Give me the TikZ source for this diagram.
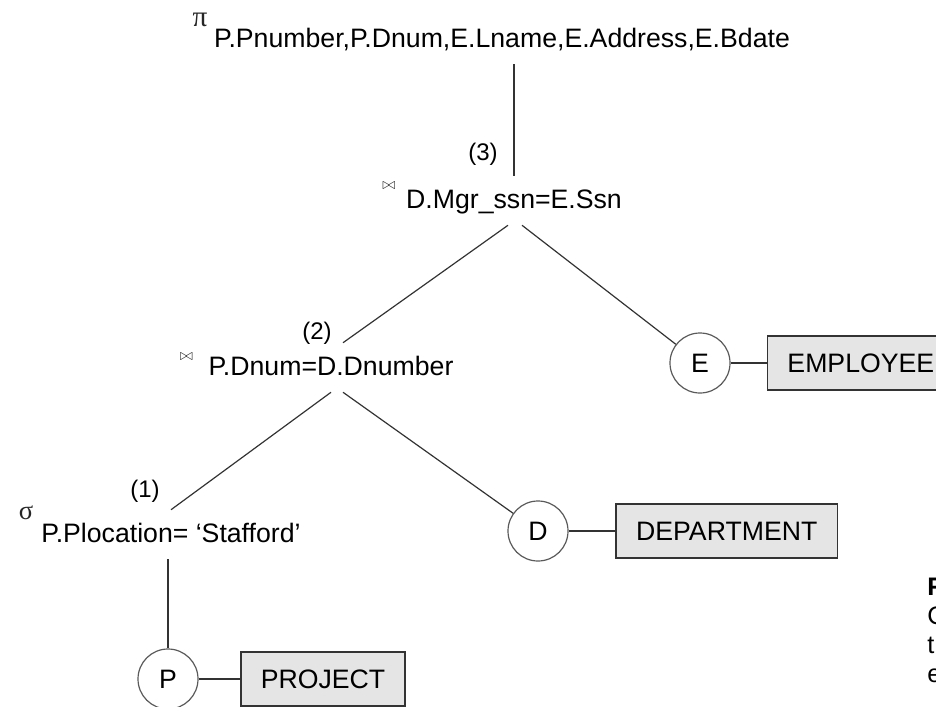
\documentclass[tikz,border=0pt]{standalone}
\usepackage{fontspec}
\setmainfont{Liberation Sans}
\newfontfamily\grkfont{Liberation Serif}
\usepackage{xcolor}
\usepackage{tikz}
\usetikzlibrary{positioning, calc}
\definecolor{qline}{HTML}{333333}
\definecolor{qring}{HTML}{5A5A5A}
\definecolor{qfill}{HTML}{E5E5E5}
\tikzset{
  qop/.style={font=\fontsize{20}{24}\selectfont, inner sep=0pt, text height=24pt, text depth=12.75pt, anchor=base},
  qsym/.style={inner sep=0pt, text=black!85},
  qlbl/.style={font=\fontsize{18}{22}\selectfont, inner sep=0pt},
  qrel/.style={circle, draw=qring, line width=0.9pt, minimum size=45pt, inner sep=0pt, font=\fontsize{20}{24}\selectfont},
  qtab/.style={draw=qline, line width=1.3pt, fill=qfill, minimum height=40.5pt, inner xsep=15pt, font=\fontsize{20}{24}\selectfont},
  qedge/.style={draw=qline, line width=0.9pt},
  qcap/.style={font=\fontsize{19}{23}\selectfont, inner sep=0pt, anchor=base west},
}
\begin{document}
\begin{tikzpicture}[x=0.75pt, y=-0.75pt]
    \useasboundingbox (0,0) rectangle (936,707);
    \clip (0,0) rectangle (936,707);
    \node[qop] (proj) at (502,47) {P.Pnumber,P.Dnum,E.Lname,E.Address,E.Bdate};
    \node[qop] (jn3) at (514,208) {D.Mgr\_ssn=E.Ssn};
    \node[qop] (jn2) at (331,375) {P.Dnum=D.Dnumber};
    \node[qop] (sel) at (171,542) {P.Plocation= ‘Stafford’};
    \node[qsym, font=\grkfont\fontsize{22}{24}\selectfont] (pisym) at ($(proj.base west)+(-14,-27)$) {π};
    \node[qsym, font=\fontsize{12}{14}\selectfont] (jsym3) at ($(jn3.base west)+(-17,-22)$) {$\bowtie$};
    \node[qsym, font=\fontsize{12}{14}\selectfont] (jsym2) at ($(jn2.base west)+(-22,-18)$) {$\bowtie$};
    \node[qsym, font=\grkfont\fontsize{20}{24}\selectfont] (sigsym) at ($(sel.base west)+(-15,-29)$) {σ};
    \node[qlbl] (lbl3) at (483,154) {(3)};
    \node[qlbl] (lbl2) at (317,333) {(2)};
    \node[qlbl] (lbl1) at (145,491) {(1)};
    \node[qrel] (e) at (700,363) {E};
    \node[qtab, right=27pt of e] (employee) {EMPLOYEE};
    \node[qrel] (d) at (538,531) {D};
    \node[qtab, right=35pt of d] (department) {DEPARTMENT};
    \node[qrel] (p) at (168,679) {P};
    \node[qtab, right=31pt of p] (project) {PROJECT};
    \node[qcap, font=\bfseries\fontsize{19}{23}\selectfont] (capf) at (927,595) {F};
    \node[qcap] (capc) at (927,624) {C};
    \node[qcap] (capt) at (927,653) {t};
    \node[qcap] (cape) at (927,682) {e};
    \draw[qedge] (proj.south -| jn3.north) -- (jn3.north);
    \draw[qedge] ($(jn3.south)+(-6,0)$) -- ($(jn2.north)+(12,0)$);
    \draw[qedge] ($(jn3.south)+(8,0)$) -- (e);
    \draw[qedge] (jn2.south) -- (sel.north);
    \draw[qedge] ($(jn2.south)+(12,0)$) -- (d);
    \draw[qedge] (p.north |- sel.south) -- (p);
    \draw[qedge] (p) -- (project);
    \draw[qedge] (d) -- (department);
    \draw[qedge] (e) -- (employee);
  \end{tikzpicture}
\end{document}
